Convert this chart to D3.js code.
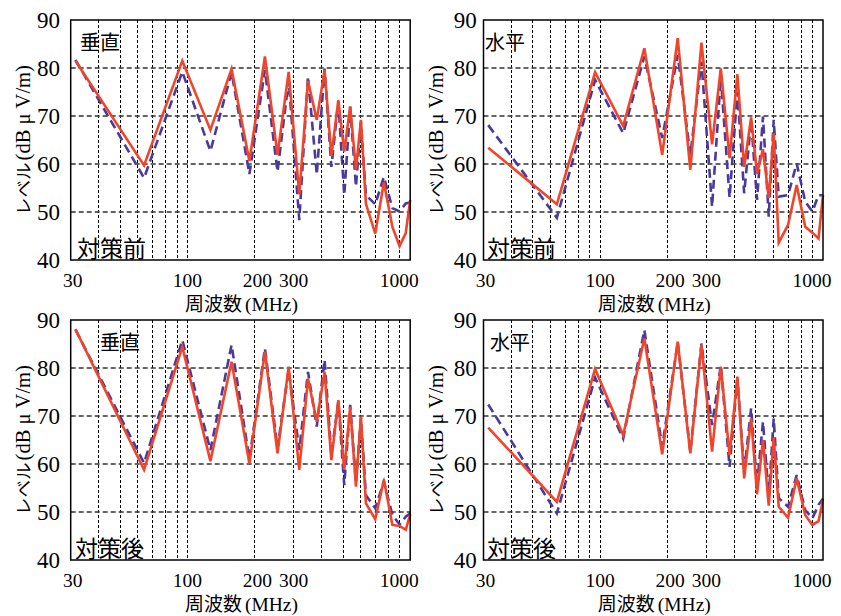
<!DOCTYPE html>
<meta charset="utf-8">
<script src="https://d3js.org/d3.v7.min.js"></script>
<style>
    body {
        margin: 0;
        background: #fff;
    }

    .tick-y {
        font: 23px "Liberation Serif", serif;
    }

    .tick-x {
        font: 19.5px "Liberation Serif", serif;
    }

    .jp {
        font-family: "Noto Sans CJK JP", sans-serif;
    }

    .latin {
        font-family: "Liberation Serif", serif;
    }

    .grid-v {
        stroke: #000;
        stroke-width: 1;
        stroke-dasharray: 3, 2;
        shape-rendering: crispEdges;
    }

    .grid-h {
        stroke: #333;
        stroke-width: 1.3;
        stroke-dasharray: 5, 3;
    }

    .frame {
        fill: none;
        stroke: #000;
        stroke-width: 1.5;
    }

    .after {
        fill: none;
        stroke: #f0452b;
        stroke-width: 2.6;
    }

    .before {
        fill: none;
        stroke: #4a3a9c;
        stroke-width: 2.6;
        stroke-dasharray: 9, 5;
    }
</style>

<body>
    <svg class="chart" width="841" height="616"></svg>
</body>

<script>
    ///////////////////////
    // Data (MHz / dBuV/m)
    var freqs = [31.5, 64, 95, 127, 158, 190, 223, 254, 285, 318, 348, 381, 413,
        443, 476, 506, 538, 571, 601, 633, 697, 762, 832, 896, 955, 1000];

    // top-left: vertical, before countermeasure
    var vBeforeSolid = [81.5, 59.7, 81.5, 67.1, 79.8, 60.6, 82.4, 61.9, 79.2, 53.7, 77.3, 69.2, 79.6,
        61.7, 73.3, 62.6, 72.0, 58.9, 69.2, 51.7, 45.5, 56.2, 46.9, 42.9, 45.6, 52.5];
    var vBeforeDash = [81.7, 57.1, 79.2, 62.7, 79.1, 57.9, 79.6, 58.4, 77.5, 48.3, 78.2, 57.8, 79.9,
        59.4, 73.0, 53.5, 71.9, 55.3, 68.8, 53.5, 51.6, 57.3, 50.8, 50.1, 51.8, 52.0];

    // top-right: horizontal, before countermeasure
    var hBeforeSolid = [63.4, 51.6, 79.1, 67.9, 84.1, 61.9, 86.2, 58.8, 85.3, 64.1, 79.9, 61.2, 78.7,
        59.4, 69.7, 58.0, 63.1, 52.9, 66.4, 43.6, 47.3, 55.6, 46.9, 45.7, 44.5, 53.5];
    var hBeforeDash = [68.1, 48.8, 77.5, 66.4, 82.4, 65.4, 82.7, 61.9, 81.3, 51.1, 78.2, 53.0, 75.1,
        53.9, 69.0, 52.5, 69.9, 49.0, 69.2, 53.2, 53.5, 60.1, 52.2, 50.1, 53.5, 53.5];

    // bottom-left: vertical, after countermeasure
    var vAfterSolid = [88.1, 58.8, 84.4, 60.6, 81.3, 60.1, 83.4, 62.2, 80.3, 58.8, 77.8, 68.8, 79.2,
        60.8, 73.3, 58.8, 71.9, 55.3, 69.9, 51.8, 48.5, 56.7, 47.3, 47.1, 46.3, 49.5];
    var vAfterDash = [88.0, 60.2, 85.8, 62.9, 84.8, 61.0, 84.1, 63.3, 79.6, 62.9, 79.2, 67.8, 81.7,
        61.9, 73.0, 55.6, 72.3, 56.0, 69.6, 53.5, 50.8, 56.3, 49.4, 47.4, 49.0, 49.7];

    // bottom-right: horizontal, after countermeasure
    var hAfterSolid = [67.6, 52.1, 79.8, 66.0, 86.2, 62.0, 85.5, 62.2, 84.8, 62.6, 80.3, 61.9, 78.2,
        57.0, 69.5, 53.7, 65.0, 51.3, 65.5, 51.1, 48.8, 57.0, 49.4, 47.3, 48.1, 52.5];
    var hAfterDash = [72.4, 49.7, 78.0, 65.3, 87.9, 63.6, 85.3, 62.5, 85.1, 68.1, 80.6, 59.4, 77.8,
        58.4, 71.6, 55.6, 68.8, 53.2, 69.5, 52.9, 51.1, 57.7, 50.4, 48.7, 51.5, 52.8];

    var yTicks = [40, 50, 60, 70, 80, 90];
    var yGrid = [50, 60, 70, 80];
    var xTicks = [30, 100, 200, 300, 1000];
    var xGrid = [40, 50, 60, 70, 80, 90, 100, 200, 300, 400, 500, 600, 700, 800, 900];

    var yTitle = ["レベル", "(dB μ V/m)"];
    var xTitle = ["周波数", "(MHz)"];

    ///////////////////////
    // Panel layout
    var panels = [
        { left: 70.7, top: 20, pol: "垂直", state: "対策前", solid: vBeforeSolid, dash: vBeforeDash,
          labelGap: 10.7, titleX: 22, polX: 80, stateX: 77 },
        { left: 483.5, top: 20, pol: "水平", state: "対策前", solid: hBeforeSolid, dash: hBeforeDash,
          labelGap: 6.8, titleX: 435, polX: 485, stateX: 487 },
        { left: 70.7, top: 320, pol: "垂直", state: "対策後", solid: vAfterSolid, dash: vAfterDash,
          labelGap: 10.7, titleX: 22, polX: 100, stateX: 75 },
        { left: 483.5, top: 320, pol: "水平", state: "対策後", solid: hAfterSolid, dash: hAfterDash,
          labelGap: 6.8, titleX: 435, polX: 490, stateX: 487 }
    ];

    var width = 339.5;
    var height = 240;

    var svg = d3.select(".chart");

    panels.forEach(function(p, i) {
        var g = svg.append("g")
            .attr("transform", "translate(" + p.left + "," + p.top + ")");

        var x = d3.scaleLog().domain([30, 1000]).range([0, width]);
        var y = d3.scaleLinear().domain([40, 90]).range([height, 0]);

        // grid
        g.selectAll(".grid-v")
            .data(xGrid)
            .enter().append("line")
            .attr("class", "grid-v")
            .attr("x1", function(d) { return x(d); })
            .attr("x2", function(d) { return x(d); })
            .attr("y1", 0)
            .attr("y2", height);

        g.selectAll(".grid-h")
            .data(yGrid)
            .enter().append("line")
            .attr("class", "grid-h")
            .attr("x1", 0)
            .attr("x2", width)
            .attr("y1", function(d) { return y(d); })
            .attr("y2", function(d) { return y(d); });

        // lines
        var line = d3.line()
            .x(function(d, j) { return x(freqs[j]); })
            .y(function(d) { return y(d); });

        g.append("path")
            .datum(p.dash)
            .attr("class", "before")
            .attr("d", line);

        g.append("path")
            .datum(p.solid)
            .attr("class", "after")
            .attr("d", line);

        g.append("rect")
            .attr("class", "frame")
            .attr("width", width)
            .attr("height", height);

        // tick labels
        g.selectAll(".tick-y")
            .data(yTicks)
            .enter().append("text")
            .attr("class", "tick-y")
            .attr("text-anchor", "end")
            .attr("x", -p.labelGap)
            .attr("y", function(d) { return y(d) + 7.8; })
            .text(function(d) { return d; });

        g.selectAll(".tick-x")
            .data(xTicks)
            .enter().append("text")
            .attr("class", "tick-x")
            .attr("text-anchor", "middle")
            .attr("x", function(d) {
                if (d == 30) return x(d) + 2;
                if (d == 1000) return x(d) - 11;
                if (d == 200) return x(d) + 3;
                return x(d);
            })
            .attr("y", height + 27)
            .text(function(d) { return d; });

        // axis titles
        var xt = g.append("text")
            .attr("text-anchor", "middle")
            .attr("x", width / 2 + 1)
            .attr("y", height + 51);
        xt.append("tspan").attr("class", "jp").attr("font-size", 19).text(xTitle[0]);
        xt.append("tspan").attr("class", "latin").attr("font-size", 19.5).attr("dx", 3).text(xTitle[1]);

        var yt = svg.append("text")
            .attr("text-anchor", "middle")
            .attr("transform", "translate(" + (p.titleX + 8) + "," + (p.top + height / 2) + ") rotate(-90)");
        yt.append("tspan").attr("class", "jp").attr("font-size", 17.5).text(yTitle[0]);
        yt.append("tspan").attr("class", "latin").attr("font-size", 20.5).attr("dx", 2).text(yTitle[1]);

        // labels in panel
        svg.append("text")
            .attr("class", "jp")
            .attr("font-size", 20)
            .attr("x", p.polX)
            .attr("y", p.top + 30)
            .text(p.pol);

        svg.append("text")
            .attr("class", "jp")
            .attr("font-size", 23)
            .attr("x", p.stateX)
            .attr("y", p.top + 237)
            .text(p.state);
    });
</script>
